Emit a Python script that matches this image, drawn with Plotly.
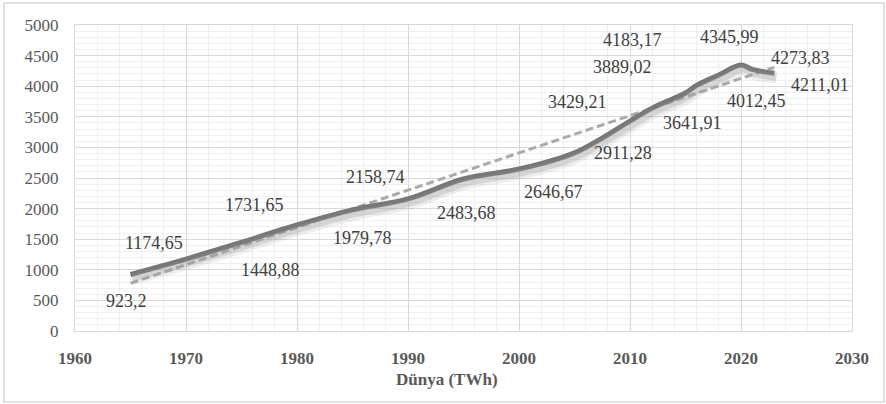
import plotly.graph_objects as go

# ---- data ----
years = [1965, 1970, 1975, 1980, 1985, 1990, 1995, 2000, 2005, 2010,
         2012, 2015, 2016, 2018, 2020, 2021, 2023]
generation_twh = [923.2, 1174.65, 1448.88, 1731.65, 1979.78, 2158.74, 2483.68,
                  2646.67, 2911.28, 3429.21, 3641.91, 3889.02, 4012.45,
                  4183.17, 4345.99, 4273.83, 4211.01]
label_texts = ["923,2", "1174,65", "1448,88", "1731,65", "1979,78", "2158,74",
               "2483,68", "2646,67", "2911,28", "3429,21", "3641,91", "3889,02",
               "4012,45", "4183,17", "4345,99", "4273,83", "4211,01"]
# linear trend line end points
trend_years = [1965, 2023]
trend_values = [780, 4310]

x_ticks = [1960, 1970, 1980, 1990, 2000, 2010, 2020, 2030]
y_ticks = [0, 500, 1000, 1500, 2000, 2500, 3000, 3500, 4000, 4500, 5000]
x_title = "Dünya (TWh)"

# ---- label placement offsets in pixels (styling, not data) ----
label_dx = [-4, -32, 29, -43, 10, -33, 3, 34, 48, -53, 40, -63, 60, -86, -12, 48, 46]
label_dy = [26, -16, 28, -20, 28, -22, 34, 23, 0, -19, 15, -26, 16, -35, -28, -11, 12]

SERIF = "Liberation Serif, Times New Roman, serif"
W, H = 886, 404
ML, MR, MT, MB = 75, 34, 25, 73
PW, PH = W - ML - MR, H - MT - MB

X_RANGE = [1960, 2030]
Y_RANGE = [0, 5000]
# shadow offset (px) -> axis-range shift
sh_dx_px, sh_dy_px = 2, 4
sx = sh_dx_px * (X_RANGE[1] - X_RANGE[0]) / PW
sy = sh_dy_px * (Y_RANGE[1] - Y_RANGE[0]) / PH

fig = go.Figure()

# shadow of the main line (drawn on a shifted overlaying axis pair)
fig.add_trace(go.Scatter(x=years, y=generation_twh, mode="lines",
                         line=dict(color="rgba(160,160,160,0.18)", width=13, shape="spline"),
                         xaxis="x2", yaxis="y2", hoverinfo="skip", showlegend=False))
fig.add_trace(go.Scatter(x=years, y=generation_twh, mode="lines",
                         line=dict(color="rgba(150,150,150,0.28)", width=7, shape="spline"),
                         xaxis="x2", yaxis="y2", hoverinfo="skip", showlegend=False))

# linear trend
fig.add_trace(go.Scatter(x=trend_years, y=trend_values, mode="lines",
                         line=dict(color="#ababab", width=3, dash="8px,4px"),
                         showlegend=False))

# main line
fig.add_trace(go.Scatter(x=years, y=generation_twh, mode="lines",
                         line=dict(color="#6f6f6f", width=5, shape="spline"),
                         showlegend=False))

# data labels
for xv, yv, t, dx, dy in zip(years, generation_twh, label_texts, label_dx, label_dy):
    fig.add_annotation(x=xv, y=yv, text=t, showarrow=False, xshift=dx, yshift=-dy,
                       font=dict(family=SERIF, size=18, color="#404040"))

# axis title
fig.add_annotation(x=(447 - ML) / PW, y=(MT + PH - 380) / PH, xref="paper", yref="paper",
                   text=f"<b>{x_title}</b>", showarrow=False, yanchor="middle",
                   font=dict(family=SERIF, size=17, color="#595959"))

# outer chart border
fig.add_shape(type="rect", xref="paper", yref="paper",
              x0=(4 - ML) / PW, x1=(884 - ML) / PW,
              y0=(MT + PH - 402) / PH, y1=(MT + PH - 3) / PH,
              line=dict(color="#d9d9d9", width=1.5), fillcolor="rgba(0,0,0,0)", layer="below")

fig.update_layout(
    width=W, height=H,
    margin=dict(l=ML, r=MR, t=MT, b=MB),
    paper_bgcolor="white", plot_bgcolor="white",
    showlegend=False,
    xaxis=dict(range=X_RANGE, tickvals=x_ticks, ticktext=[f"<b>{v}</b>" for v in x_ticks],
               showgrid=True, gridcolor="#d9d9d9", gridwidth=1,
               minor=dict(dtick=2, tick0=1960, showgrid=True, gridcolor="#efefef", gridwidth=1),
               showline=True, linecolor="#d9d9d9", linewidth=1, mirror=True,
               zeroline=False, ticks="", ticklabelstandoff=12,
               tickfont=dict(family=SERIF, size=17, color="#595959")),
    yaxis=dict(range=Y_RANGE, tickvals=y_ticks,
               showgrid=True, gridcolor="#d9d9d9", gridwidth=1,
               minor=dict(dtick=100, tick0=0, showgrid=True, gridcolor="#efefef", gridwidth=1),
               showline=True, linecolor="#d9d9d9", linewidth=1, mirror=True,
               zeroline=False, ticks="", ticklabelstandoff=12,
               tickfont=dict(family=SERIF, size=17, color="#595959")),
    xaxis2=dict(range=[X_RANGE[0] - sx, X_RANGE[1] - sx], overlaying="x", visible=False),
    yaxis2=dict(range=[Y_RANGE[0] + sy, Y_RANGE[1] + sy], overlaying="y", visible=False),
)

fig.write_html("out.html", config={"displayModeBar": False},
               post_script="document.body.style.margin='0px';")
